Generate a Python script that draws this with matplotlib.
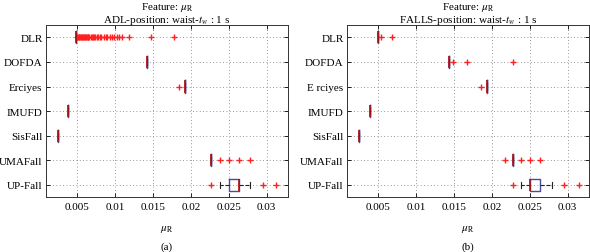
import matplotlib
matplotlib.use("Agg")
import matplotlib.pyplot as plt

plt.rcParams["font.family"] = ["Liberation Serif", "DejaVu Serif"]
plt.rcParams["mathtext.fontset"] = "stix"
plt.rcParams["font.size"] = 8

# datasets (top to bottom)
datasets = ["DLR", "DOFDA", "Erciyes", "IMUFD", "SisFall", "UMAFall", "UP-Fall"]
labels_b = ["DLR", "DOFDA", "E rciyes", "IMUFD", "SisFall", "UMAFall", "UP-Fall"]

# (a) ADL: median, q1, q3, whisker low, whisker high
adl_med = [0.0049, 0.0142, 0.01925, 0.00386, 0.00245, 0.02267, 0.0263]
adl_q1 = [0.0049, 0.0142, 0.01925, 0.00386, 0.00245, 0.02267, 0.0250]
adl_q3 = [0.0049, 0.0142, 0.01925, 0.00386, 0.00245, 0.02267, 0.0264]
adl_lo = [0.0049, 0.0142, 0.01925, 0.00386, 0.00245, 0.02267, 0.0239]
adl_hi = [0.0049, 0.0142, 0.01925, 0.00386, 0.00245, 0.02267, 0.0278]
adl_fliers = [
    [0.0050, 0.0051, 0.0052, 0.0053, 0.0054, 0.0055, 0.0056, 0.0057, 0.0058,
     0.0059, 0.0060, 0.0061, 0.0062, 0.0063, 0.0064, 0.0065, 0.0066, 0.0068,
     0.0069, 0.0071, 0.0072, 0.0074, 0.0076, 0.0078, 0.0080, 0.0082, 0.0085,
     0.0088, 0.0090, 0.0093, 0.0096, 0.0099, 0.0102, 0.0105, 0.0109, 0.0118,
     0.0148, 0.0178],
    [],
    [0.01846],
    [],
    [],
    [0.02386, 0.0250, 0.0263, 0.0278],
    [0.0227, 0.02947, 0.03122],
]

# (b) FALLS
fall_med = [0.0050, 0.01434, 0.01934, 0.00395, 0.0025, 0.0228, 0.0250]
fall_q1 = [0.00495, 0.01434, 0.01934, 0.00395, 0.0025, 0.0228, 0.0250]
fall_q3 = [0.00500, 0.01434, 0.01934, 0.00395, 0.0025, 0.0228, 0.0263]
fall_lo = [0.00495, 0.01434, 0.01934, 0.00395, 0.0025, 0.0228, 0.0239]
fall_hi = [0.00500, 0.01434, 0.01934, 0.00395, 0.0025, 0.0228, 0.0279]
fall_fliers = [
    [0.00545, 0.0069],
    [0.0149, 0.01676, 0.02286],
    [0.01864],
    [],
    [],
    [0.0218, 0.0239, 0.0250, 0.0264],
    [0.02286, 0.02956, 0.03145],
]

xticks = [0.005, 0.01, 0.015, 0.02, 0.025, 0.03]
xticklabels = ["0.005", "0.01", "0.015", "0.02", "0.025", "0.03"]


def draw(ax, med, q1, q3, lo, hi, fl, labels, title2):
    stats = []
    for i in range(len(med)):
        stats.append(dict(med=med[i], q1=q1[i], q3=q3[i], whislo=lo[i],
                          whishi=hi[i], fliers=fl[i]))
    ax.bxp(stats, positions=range(1, len(med) + 1), vert=False, widths=0.5,
           boxprops=dict(color="#4b4b9b", lw=1.0),
           medianprops=dict(color="#b01010", lw=1.2, zorder=3),
           whiskerprops=dict(color="#222222", ls="--", lw=0.8),
           capprops=dict(color="#222222", lw=0.8),
           capwidths=0.25,
           flierprops=dict(marker="+", markeredgecolor="#ff2020",
                           markersize=5, markeredgewidth=1.0, ls="none"))
    ax.set_ylim(7.5, 0.5)
    ax.set_yticks(range(1, len(labels) + 1))
    ax.set_yticklabels(labels, fontsize=8)
    ax.set_xlim(0.0009, 0.0328)
    ax.set_xticks(xticks)
    ax.set_xticklabels(xticklabels, fontsize=8)
    ax.grid(True, ls=(0, (1, 3)), color="#777777", lw=0.6)
    ax.tick_params(direction="in", top=True, right=True, length=3, width=0.6)
    ax.tick_params(axis="y", pad=2.5)
    for s in ax.spines.values():
        s.set_linewidth(0.7)
        s.set_color("#333333")
    ax.set_xlabel(r"$\mu_{\mathrm{R}}$", fontsize=8, labelpad=9)
    ax.set_title("Feature: " + r"$\mu_{\mathrm{R}}$" + "\n" + title2,
                 fontsize=8, pad=2, linespacing=1.05)


fig = plt.figure(figsize=(5.9, 2.53), dpi=100)
ax1 = fig.add_axes([0.078, 0.217, 0.410, 0.680])
ax2 = fig.add_axes([0.588, 0.217, 0.410, 0.680])

draw(ax1, adl_med, adl_q1, adl_q3, adl_lo, adl_hi, adl_fliers, datasets,
     r"ADL-position: waist-$t_w$ : 1 s")
draw(ax2, fall_med, fall_q1, fall_q3, fall_lo, fall_hi, fall_fliers, labels_b,
     r"FALLS-position: waist-$t_w$ : 1 s")

fig.text(0.283, 0.012, "(a)", ha="center", fontsize=8)
fig.text(0.793, 0.012, "(b)", ha="center", fontsize=8)

fig.savefig("out.png", dpi=100)
